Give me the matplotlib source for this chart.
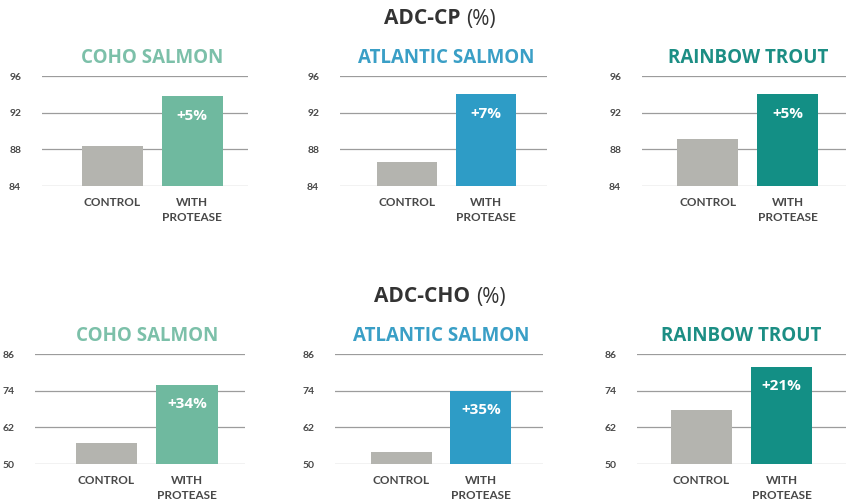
import matplotlib
matplotlib.use("Agg")
import matplotlib.pyplot as plt
from matplotlib.transforms import blended_transform_factory, offset_copy

# Data
species = ["COHO SALMON", "ATLANTIC SALMON", "RAINBOW TROUT"]
categories = ["CONTROL", "WITH\nPROTEASE"]

cp_control = [88.4, 86.6, 89.1]
cp_protease = [93.8, 94.0, 94.0]
cp_gain = ["+5%", "+7%", "+5%"]
cp_ticks = [84, 88, 92, 96]

cho_control = [56.9, 53.9, 67.8]
cho_protease = [75.9, 74.0, 81.9]
cho_gain = ["+34%", "+35%", "+21%"]
cho_ticks = [50, 62, 74, 86]

species_colors = ["#6fb99f", "#2e9cc6", "#138f85"]
title_colors = ["#7cc0a9", "#3a9fc6", "#1c8e84"]
control_color = "#b4b4af"
grid_color = "#9c9c9c"
text_color = "#484848"

W, H = 846, 503
fig = plt.figure(figsize=(W / 100, H / 100), dpi=100)
fig.patch.set_facecolor("white")

TITLE_FONT = "Open Sans"
LABEL_FONT = "Lato"

# Panel frames in pixels: (left, right) with x-limits; rows give top/bottom
rows = [
    dict(top=76, bottom=186, ticks=cp_ticks, control=cp_control,
         protease=cp_protease, gain=cp_gain, title="ADC-CP", title_y=19,
         panels=[(42, 248, -0.887, 1.704), (340, 547, -0.848, 1.772),
                 (642, 846, -0.830, 1.736)]),
    dict(top=354, bottom=464, ticks=cho_ticks, control=cho_control,
         protease=cho_protease, gain=cho_gain, title="ADC-CHO", title_y=297,
         panels=[(35, 245, -0.888, 1.720), (335, 543, -0.836, 1.780),
                 (637, 846, -0.806, 1.806)]),
]

renderer = fig.canvas.get_renderer()

for row in rows:
    # Row heading: bold metric name followed by a lighter "(%)", centred as a pair
    fy = 1 - row["title_y"] / H
    t1 = fig.text(0, fy, row["title"] + " ", ha="left", va="center",
                  fontsize=15, fontweight="bold", family=TITLE_FONT, color="#333333")
    t2 = fig.text(0, fy, "(%)", ha="left", va="center",
                  fontsize=15, fontweight="normal", family=TITLE_FONT, color="#333333")
    w1 = t1.get_window_extent(renderer).width
    w2 = t2.get_window_extent(renderer).width
    x_start = 440 - (w1 + w2) / 2
    t1.set_x(x_start / W)
    t2.set_x((x_start + w1) / W)

    for i, (lpx, rpx, x0, x1) in enumerate(row["panels"]):
        ax = fig.add_axes([lpx / W, 1 - row["bottom"] / H,
                           (rpx - lpx) / W, (row["bottom"] - row["top"]) / H])
        lo, hi = row["ticks"][0], row["ticks"][-1]
        ax.set_xlim(x0, x1)
        ax.set_ylim(lo, hi)
        for tv in row["ticks"]:
            ax.axhline(tv, color=grid_color, lw=0.9, zorder=1)
        vals = [row["control"][i], row["protease"][i]]
        ax.bar([0, 1], [v - lo for v in vals], bottom=lo, width=0.767,
               color=[control_color, species_colors[i]], zorder=2)
        ax.annotate(row["gain"][i], xy=(1, vals[1]), xytext=(0, -14),
                    textcoords="offset points", ha="center", va="center",
                    color="white", fontsize=11, fontweight="bold",
                    family=TITLE_FONT, zorder=3)
        ax.set_yticks(row["ticks"])
        ax.set_yticklabels([str(t) for t in row["ticks"]], family=LABEL_FONT,
                           fontsize=7.5, fontweight="bold", color=text_color)
        ax.tick_params(axis="y", length=0, pad=15)
        ax.set_xticks([0, 1])
        ax.set_xticklabels(categories, family=LABEL_FONT, fontsize=8.5,
                           fontweight="bold", color=text_color,
                           linespacing=1.45, va="top")
        ax.tick_params(axis="x", length=0, pad=8)
        for s in ax.spines.values():
            s.set_visible(False)
        ax.set_facecolor("none")
        trans = blended_transform_factory(ax.transData, ax.transAxes)
        ax.text(0.5, 1.0, species[i],
                transform=offset_copy(trans, fig=fig, x=0, y=13, units="points"),
                ha="center", va="center", fontsize=13.5, fontweight="bold",
                family=TITLE_FONT, color=title_colors[i])

fig.savefig("out.png", dpi=100, facecolor="white")
